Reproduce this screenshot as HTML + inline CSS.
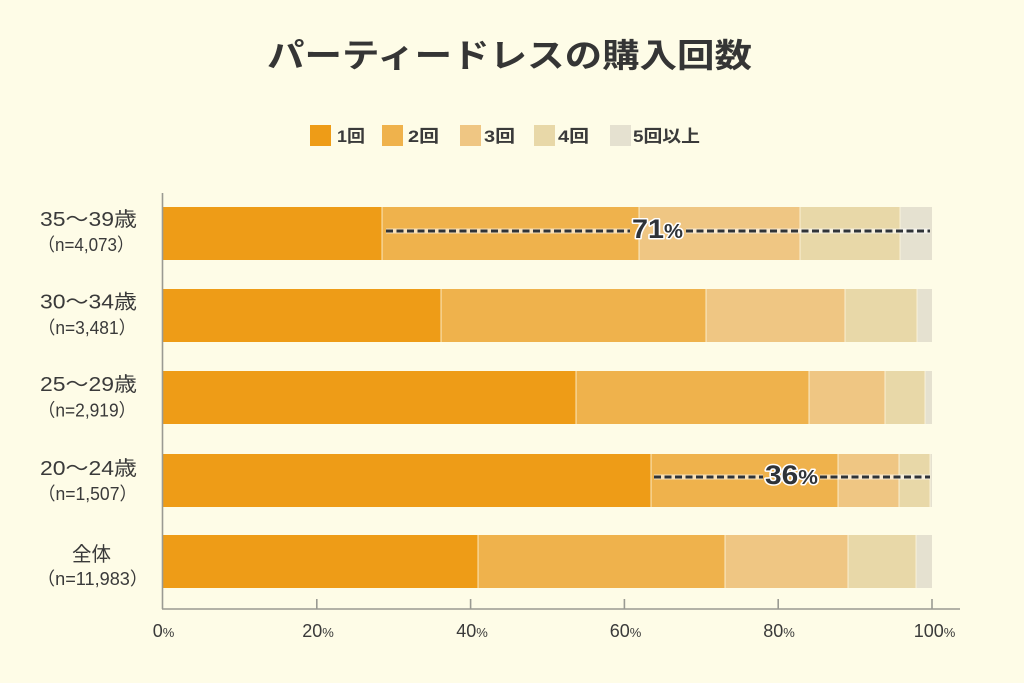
<!DOCTYPE html>
<html><head><meta charset="utf-8"><style>
html,body{margin:0;padding:0;background:#FEFCE7;}
svg{display:block;font-family:"Liberation Sans","Noto Sans CJK JP",sans-serif;}
</style></head><body>
<svg width="1024" height="683" viewBox="0 0 1024 683" xmlns="http://www.w3.org/2000/svg">
<rect x="0" y="0" width="1024" height="683" fill="#FEFCE7"/>
<text x="267" y="67" font-size="33" font-weight="bold" fill="#353535" textLength="485" lengthAdjust="spacingAndGlyphs">パーティードレスの購入回数</text>

<!-- legend -->
<g font-size="17" font-weight="bold" fill="#3a3a3a">
<rect x="310" y="125" width="21" height="21" fill="#EE9C17"/><text x="337" y="142" textLength="28" lengthAdjust="spacingAndGlyphs">1回</text>
<rect x="382" y="125" width="21" height="21" fill="#EFB24C"/><text x="408" y="142" textLength="31" lengthAdjust="spacingAndGlyphs">2回</text>
<rect x="460" y="125" width="21" height="21" fill="#EFC683"/><text x="484" y="142" textLength="31" lengthAdjust="spacingAndGlyphs">3回</text>
<rect x="534" y="125" width="21" height="21" fill="#E8D8A8"/><text x="558" y="142" textLength="31" lengthAdjust="spacingAndGlyphs">4回</text>
<rect x="610" y="125" width="21" height="21" fill="#E5E1D0"/><text x="633" y="142" textLength="67" lengthAdjust="spacingAndGlyphs">5回以上</text>
</g>

<!-- bars -->
<g>
<!-- row1 -->
<rect x="163" y="207" width="219" height="53" fill="#EE9C17"/>
<rect x="382" y="207" width="257" height="53" fill="#EFB24C"/>
<rect x="639" y="207" width="161" height="53" fill="#EFC683"/>
<rect x="800" y="207" width="100" height="53" fill="#E8D8A8"/>
<rect x="900" y="207" width="32" height="53" fill="#E5E1D0"/>
<!-- row2 -->
<rect x="163" y="289" width="278" height="53" fill="#EE9C17"/>
<rect x="441" y="289" width="265" height="53" fill="#EFB24C"/>
<rect x="706" y="289" width="139" height="53" fill="#EFC683"/>
<rect x="845" y="289" width="72" height="53" fill="#E8D8A8"/>
<rect x="917" y="289" width="15" height="53" fill="#E5E1D0"/>
<!-- row3 -->
<rect x="163" y="371" width="413" height="53" fill="#EE9C17"/>
<rect x="576" y="371" width="233" height="53" fill="#EFB24C"/>
<rect x="809" y="371" width="76" height="53" fill="#EFC683"/>
<rect x="885" y="371" width="40" height="53" fill="#E8D8A8"/>
<rect x="925" y="371" width="7" height="53" fill="#E5E1D0"/>
<!-- row4 -->
<rect x="163" y="454" width="488" height="53" fill="#EE9C17"/>
<rect x="651" y="454" width="187" height="53" fill="#EFB24C"/>
<rect x="838" y="454" width="61" height="53" fill="#EFC683"/>
<rect x="899" y="454" width="31" height="53" fill="#E8D8A8"/>
<rect x="930" y="454" width="2" height="53" fill="#E5E1D0"/>
<!-- row5 -->
<rect x="163" y="535" width="315" height="53" fill="#EE9C17"/>
<rect x="478" y="535" width="247" height="53" fill="#EFB24C"/>
<rect x="725" y="535" width="123" height="53" fill="#EFC683"/>
<rect x="848" y="535" width="68" height="53" fill="#E8D8A8"/>
<rect x="916" y="535" width="16" height="53" fill="#E5E1D0"/>
</g>
<!-- separators -->
<g stroke="#FFF8E0" stroke-width="1" opacity="0.8">
<line x1="382" y1="207" x2="382" y2="260"/><line x1="639" y1="207" x2="639" y2="260"/><line x1="800" y1="207" x2="800" y2="260"/><line x1="900" y1="207" x2="900" y2="260"/>
<line x1="441" y1="289" x2="441" y2="342"/><line x1="706" y1="289" x2="706" y2="342"/><line x1="845" y1="289" x2="845" y2="342"/><line x1="917" y1="289" x2="917" y2="342"/>
<line x1="576" y1="371" x2="576" y2="424"/><line x1="809" y1="371" x2="809" y2="424"/><line x1="885" y1="371" x2="885" y2="424"/><line x1="925" y1="371" x2="925" y2="424"/>
<line x1="651" y1="454" x2="651" y2="507"/><line x1="838" y1="454" x2="838" y2="507"/><line x1="899" y1="454" x2="899" y2="507"/><line x1="930" y1="454" x2="930" y2="507"/>
<line x1="478" y1="535" x2="478" y2="588"/><line x1="725" y1="535" x2="725" y2="588"/><line x1="848" y1="535" x2="848" y2="588"/><line x1="916" y1="535" x2="916" y2="588"/>
</g>

<!-- axes -->
<g stroke="#9a9a92" stroke-width="1.6" fill="none">
<line x1="162.5" y1="193" x2="162.5" y2="609"/>
<line x1="162" y1="609" x2="960" y2="609"/>
<line x1="316.8" y1="599" x2="316.8" y2="609"/>
<line x1="470.6" y1="599" x2="470.6" y2="609"/>
<line x1="624.4" y1="599" x2="624.4" y2="609"/>
<line x1="778.2" y1="599" x2="778.2" y2="609"/>
<line x1="932" y1="599" x2="932" y2="609"/>
</g>

<!-- tick labels -->
<g font-size="18" fill="#3a3a3a" text-anchor="middle">
<text x="163.5" y="637">0<tspan font-size="13">%</tspan></text>
<text x="318" y="637">20<tspan font-size="13">%</tspan></text>
<text x="472" y="637">40<tspan font-size="13">%</tspan></text>
<text x="625.5" y="637">60<tspan font-size="13">%</tspan></text>
<text x="779" y="637">80<tspan font-size="13">%</tspan></text>
<text x="934.5" y="637">100<tspan font-size="13">%</tspan></text>
</g>

<!-- y labels -->
<g fill="#3a3a3a">
<text x="40" y="226" font-size="20" textLength="97" lengthAdjust="spacingAndGlyphs">35〜39歳</text>
<text x="38" y="251" font-size="18" textLength="96" lengthAdjust="spacingAndGlyphs">（n=4,073）</text>
<text x="40" y="308.5" font-size="20" textLength="97" lengthAdjust="spacingAndGlyphs">30〜34歳</text>
<text x="38" y="334" font-size="18" textLength="98" lengthAdjust="spacingAndGlyphs">（n=3,481）</text>
<text x="40" y="391" font-size="20" textLength="97" lengthAdjust="spacingAndGlyphs">25〜29歳</text>
<text x="38" y="416.5" font-size="18" textLength="98" lengthAdjust="spacingAndGlyphs">（n=2,919）</text>
<text x="40" y="475" font-size="20" textLength="97" lengthAdjust="spacingAndGlyphs">20〜24歳</text>
<text x="38" y="500" font-size="18" textLength="99" lengthAdjust="spacingAndGlyphs">（n=1,507）</text>
<text x="72" y="561" font-size="20" textLength="39" lengthAdjust="spacingAndGlyphs">全体</text>
<text x="37" y="585" font-size="18" textLength="111" lengthAdjust="spacingAndGlyphs">（n=11,983）</text>
</g>

<!-- annotations -->
<g fill="none">
<line x1="386" y1="231" x2="630" y2="231" stroke="#ffffff" stroke-width="5" stroke-opacity="0.6"/>
<line x1="686" y1="231" x2="930" y2="231" stroke="#ffffff" stroke-width="5" stroke-opacity="0.6"/>
<line x1="386" y1="231" x2="630" y2="231" stroke="#2f3338" stroke-width="3" stroke-dasharray="7,3.5"/>
<line x1="686" y1="231" x2="930" y2="231" stroke="#2f3338" stroke-width="3" stroke-dasharray="7,3.5"/>
<line x1="654" y1="477" x2="763" y2="477" stroke="#ffffff" stroke-width="5" stroke-opacity="0.6"/>
<line x1="820" y1="477" x2="930" y2="477" stroke="#ffffff" stroke-width="5" stroke-opacity="0.6"/>
<line x1="654" y1="477" x2="763" y2="477" stroke="#2f3338" stroke-width="3" stroke-dasharray="7,3.5"/>
<line x1="820" y1="477" x2="930" y2="477" stroke="#2f3338" stroke-width="3" stroke-dasharray="7,3.5"/>
</g>
<g font-weight="bold" fill="#2f3338" stroke="#ffffff" stroke-width="3" paint-order="stroke" stroke-linejoin="round">
<text x="632" y="238" font-size="27" textLength="51" lengthAdjust="spacingAndGlyphs">71<tspan font-size="20">%</tspan></text>
<text x="765" y="484" font-size="27" textLength="53" lengthAdjust="spacingAndGlyphs">36<tspan font-size="20">%</tspan></text>
</g>
</svg>
</body></html>
